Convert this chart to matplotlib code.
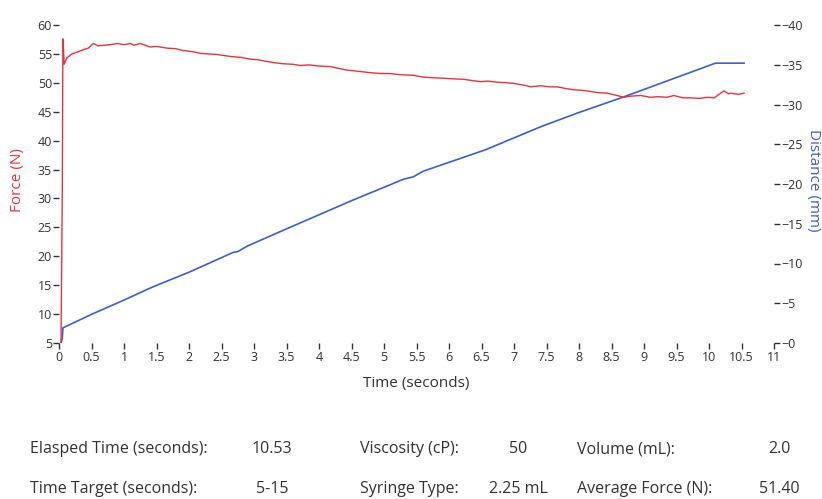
import matplotlib
matplotlib.use('Agg')
import matplotlib.pyplot as plt

plt.rcParams['font.family'] = ['Open Sans', 'DejaVu Sans']

# force trace (N) vs time (s)
force_t = [0.03, 0.05, 0.06, 0.07, 0.08, 0.12, 0.2, 0.3, 0.37, 0.45, 0.53, 0.6, 0.7,
           0.79, 0.9, 1.0, 1.1, 1.15, 1.25, 1.4, 1.5, 1.66, 1.8, 1.9, 2.05, 2.17,
           2.3, 2.43, 2.55, 2.68, 2.8, 2.94, 3.05, 3.2, 3.3, 3.45, 3.6, 3.71, 3.85,
           4.0, 4.18, 4.3, 4.43, 4.6, 4.75, 4.95, 5.1, 5.25, 5.45, 5.6, 5.72, 5.9,
           6.05, 6.23, 6.35, 6.49, 6.6, 6.75, 6.9, 7.0, 7.15, 7.26, 7.41, 7.55,
           7.67, 7.8, 7.92, 8.05, 8.18, 8.3, 8.44, 8.55, 8.69, 8.8, 8.95, 9.1,
           9.21, 9.35, 9.46, 9.6, 9.72, 9.85, 9.98, 10.08, 10.14, 10.23, 10.3,
           10.34, 10.45, 10.54]
force_v = [4.5, 30.0, 57.6, 55.5, 53.2, 54.3, 55.0, 55.4, 55.7, 56.0, 56.8, 56.4, 56.5,
           56.6, 56.8, 56.6, 56.8, 56.5, 56.8, 56.2, 56.3, 56.0, 55.9, 55.6, 55.4, 55.1,
           55.0, 54.9, 54.7, 54.5, 54.4, 54.1, 54.0, 53.7, 53.5, 53.3, 53.2, 53.0, 53.1,
           52.9, 52.8, 52.5, 52.2, 52.0, 51.8, 51.6, 51.6, 51.4, 51.3, 51.0, 50.9, 50.8,
           50.7, 50.6, 50.4, 50.2, 50.3, 50.1, 50.0, 49.9, 49.6, 49.3, 49.5, 49.3,
           49.3, 49.0, 48.8, 48.7, 48.5, 48.3, 48.2, 47.9, 47.5, 47.7, 47.8, 47.5,
           47.6, 47.5, 47.8, 47.4, 47.4, 47.3, 47.5, 47.4, 47.9, 48.6, 48.1,
           48.2, 48.0, 48.2]

# plunger distance (mm, negative = travel) vs time (s)
dist_t = [0.03, 0.05, 0.06, 0.5, 1.0, 1.4, 1.56, 2.0, 2.68, 2.75, 2.9, 3.4, 3.71, 4.5,
          5.3, 5.45, 5.6, 6.56, 7.41, 8.0, 8.67, 9.5, 10.1, 10.54]
dist_v = [0.0, -0.5, -1.9, -3.6, -5.4, -6.9, -7.45, -8.9, -11.4, -11.5, -12.2, -14.0,
          -15.1, -17.9, -20.6, -20.9, -21.6, -24.3, -27.2, -29.0, -30.9, -33.4, -35.2,
          -35.2]

x_ticks = [0, 0.5, 1, 1.5, 2, 2.5, 3, 3.5, 4, 4.5, 5, 5.5, 6, 6.5, 7, 7.5, 8, 8.5,
           9, 9.5, 10, 10.5, 11]
x_labels = ['0', '0.5', '1', '1.5', '2', '2.5', '3', '3.5', '4', '4.5', '5', '5.5',
            '6', '6.5', '7', '7.5', '8', '8.5', '9', '9.5', '10', '10.5', '11']
force_ticks = [5, 10, 15, 20, 25, 30, 35, 40, 45, 50, 55, 60]
dist_ticks = [0, -5, -10, -15, -20, -25, -30, -35, -40]
dist_labels = ['\u22120', '\u22125', '\u221210', '\u221215', '\u221220', '\u221225',
               '\u221230', '\u221235', '\u221240']

# summary table under the chart
info_rows = [
    [('Elasped Time (seconds):', '10.53'), ('Viscosity (cP):', '50'), ('Volume (mL):', '2.0')],
    [('Time Target (seconds):', '5-15'), ('Syringe Type:', '2.25 mL'), ('Average Force (N):', '51.40')],
]

RED = '#e8343c'
BLUE = '#3b5fd3'
TXT = '#333333'

W, H = 822, 499
fig = plt.figure(figsize=(W / 100, H / 100), dpi=100)
ax = fig.add_axes([59 / W, 1 - 343 / H, (774 - 59) / W, (343 - 25) / H])
ax2 = ax.twinx()

ax.plot(force_t, force_v, color=RED, lw=1.0, zorder=3)
ax2.plot(dist_t, dist_v, color=BLUE, lw=1.2, zorder=2)
ax.set_zorder(ax2.get_zorder() + 1)
ax.patch.set_visible(False)

ax.set_xlim(0, 11)
ax.set_ylim(5, 60)
ax2.set_ylim(0, -40)
ax.set_xticks(x_ticks)
ax.set_xticklabels(x_labels)
ax.set_yticks(force_ticks)
ax2.set_yticks(dist_ticks)
ax2.set_yticklabels(dist_labels)

for a in (ax, ax2):
    for s in a.spines.values():
        s.set_visible(False)
ax.tick_params(axis='x', direction='out', length=4, width=1, pad=2,
               labelsize=9, colors=TXT)
ax.tick_params(axis='y', direction='out', length=4, width=1, pad=1,
               labelsize=9, colors=TXT)
ax2.tick_params(axis='y', direction='out', length=4, width=1, pad=1,
                labelsize=9, colors=TXT)

fig.text(416 / W, 1 - 383 / H, 'Time (seconds)', ha='center', va='center',
         fontsize=11, color=TXT)
fig.text(17 / W, 1 - 180 / H, 'Force (N)', ha='center', va='center',
         rotation=90, fontsize=11, color=RED)
fig.text(813 / W, 1 - 180 / H, 'Distance (mm)', ha='center', va='center',
         rotation=270, fontsize=11, color=BLUE)

label_x = [30, 360, 577]
value_x = [272, 518, 779]
row_y = [449, 489]
for r, row in enumerate(info_rows):
    for c, (lab, val) in enumerate(row):
        fig.text(label_x[c] / W, 1 - row_y[r] / H, lab, ha='left', va='center',
                 fontsize=11.5, color=TXT)
        fig.text(value_x[c] / W, 1 - row_y[r] / H, val, ha='center', va='center',
                 fontsize=11.5, color=TXT)

fig.savefig('out.png', dpi=100)
